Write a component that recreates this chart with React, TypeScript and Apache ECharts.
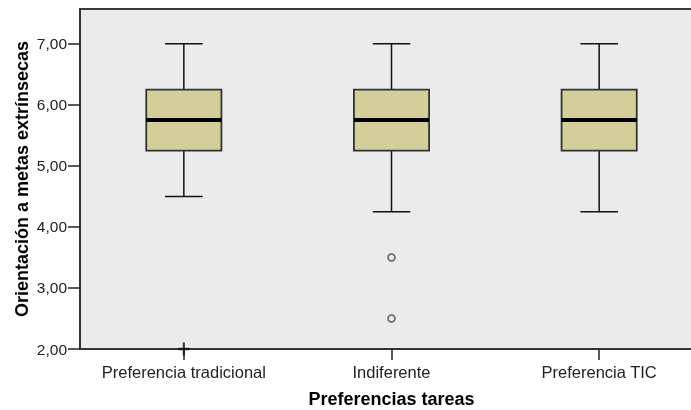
import React, { useEffect, useRef } from "react";
import * as echarts from "echarts";

const categories = ["Preferencia tradicional", "Indiferente", "Preferencia TIC"];
const whiskerLow = [4.5, 4.25, 4.25];
const q1 = [5.25, 5.25, 5.25];
const median = [5.75, 5.75, 5.75];
const q3 = [6.25, 6.25, 6.25];
const whiskerHigh = [7.0, 7.0, 7.0];
const outliers: [number, number][] = [
  [1, 3.5],
  [1, 2.5],
];
const extremes: [number, number][] = [[0, 2.0]];
const yTicks = [2, 3, 4, 5, 6, 7];

const FONT = "'Liberation Sans', Arial, sans-serif";

export default function App() {
  const ref = useRef<HTMLDivElement>(null);
  useEffect(() => {
    if (!ref.current) return;
    const chart = echarts.init(ref.current, null, { renderer: "svg" });
    const boxData = categories.map((_, i) => [i, whiskerLow[i], q1[i], median[i], q3[i], whiskerHigh[i]]);
    chart.setOption({
      animation: false,
      grid: {
        left: 80,
        top: 9,
        right: -12,
        bottom: 61,
        outerBoundsMode: "none",
        containLabel: false,
        show: true,
        backgroundColor: "#EBEBEB",
        borderColor: "#3a3a3a",
        borderWidth: 2,
      },
      xAxis: {
        type: "category",
        data: categories,
        boundaryGap: true,
        name: "Preferencias tareas",
        nameLocation: "middle",
        nameGap: 41,
        nameMoveOverlap: false,
        nameTextStyle: { fontFamily: FONT, fontWeight: "bold", fontSize: 18, color: "#000" },
        axisLine: { show: true, lineStyle: { color: "#333", width: 2 } },
        axisTick: { show: true, alignWithLabel: true, length: 11, lineStyle: { color: "#222", width: 1.5 } },
        axisLabel: { fontFamily: FONT, fontSize: 16.5, color: "#222", margin: 14, interval: 0, hideOverlap: false },
        splitLine: { show: false },
      },
      yAxis: {
        type: "value",
        min: 2,
        max: 7.57,
        interval: 1,
        name: "Orientación a metas extrínsecas",
        nameLocation: "middle",
        nameGap: 49,
        nameMoveOverlap: false,
        nameTextStyle: { fontFamily: FONT, fontWeight: "bold", fontSize: 18, color: "#000" },
        axisLine: { show: true, lineStyle: { color: "#333", width: 2 } },
        axisTick: { show: true, length: 12, customValues: yTicks, lineStyle: { color: "#222", width: 1.5 } },
        axisLabel: {
          fontFamily: FONT,
          fontSize: 15.5,
          color: "#222",
          margin: 13,
          customValues: yTicks,
          formatter: (v: number) =>
            yTicks.some((t) => Math.abs(t - v) < 1e-6) ? v.toFixed(2).replace(".", ",") : "",
        },
        splitLine: { show: false },
      },
      series: [
        {
          type: "custom",
          data: boxData,
          clip: false,
          renderItem: (params: any, api: any) => {
            const idx = api.value(0);
            const band = api.size([1, 0])[0];
            const bw = band * 0.362;
            const cw = bw * 0.5;
            const pLow = api.coord([idx, api.value(1)]);
            const pQ1 = api.coord([idx, api.value(2)]);
            const pMed = api.coord([idx, api.value(3)]);
            const pQ3 = api.coord([idx, api.value(4)]);
            const pHigh = api.coord([idx, api.value(5)]);
            const cx = pLow[0];
            const lineStyle = { stroke: "#111", lineWidth: 1.5 };
            return {
              type: "group",
              children: [
                { type: "line", shape: { x1: cx, y1: pQ3[1], x2: cx, y2: pHigh[1] }, style: lineStyle },
                { type: "line", shape: { x1: cx, y1: pQ1[1], x2: cx, y2: pLow[1] }, style: lineStyle },
                { type: "line", shape: { x1: cx - cw / 2, y1: pHigh[1], x2: cx + cw / 2, y2: pHigh[1] }, style: lineStyle },
                { type: "line", shape: { x1: cx - cw / 2, y1: pLow[1], x2: cx + cw / 2, y2: pLow[1] }, style: lineStyle },
                {
                  type: "rect",
                  shape: { x: cx - bw / 2, y: pQ3[1], width: bw, height: pQ1[1] - pQ3[1] },
                  style: { fill: "#D3CE9A", stroke: "#333", lineWidth: 1.8 },
                },
                {
                  type: "line",
                  shape: { x1: cx - bw / 2, y1: pMed[1], x2: cx + bw / 2, y2: pMed[1] },
                  style: { stroke: "#000", lineWidth: 4 },
                },
              ],
            };
          },
          z: 3,
        },
        {
          type: "scatter",
          data: outliers,
          symbol: "circle",
          symbolSize: 7,
          clip: false,
          itemStyle: { color: "#EBEBEB", borderColor: "#555", borderWidth: 1.8 },
          z: 4,
        },
        {
          type: "scatter",
          data: extremes,
          symbol: "path://M4,0h2v4h4v2h-4v4h-2v-4h-4v-2h4z",
          symbolSize: [11, 13],
          clip: false,
          itemStyle: { color: "#111" },
          z: 5,
        },
      ],
    });
    return () => chart.dispose();
  }, []);
  return (
    <div
      ref={ref}
      style={{ position: "fixed", left: 0, top: 0, width: 691, height: 410, overflow: "hidden" }}
    />
  );
}
